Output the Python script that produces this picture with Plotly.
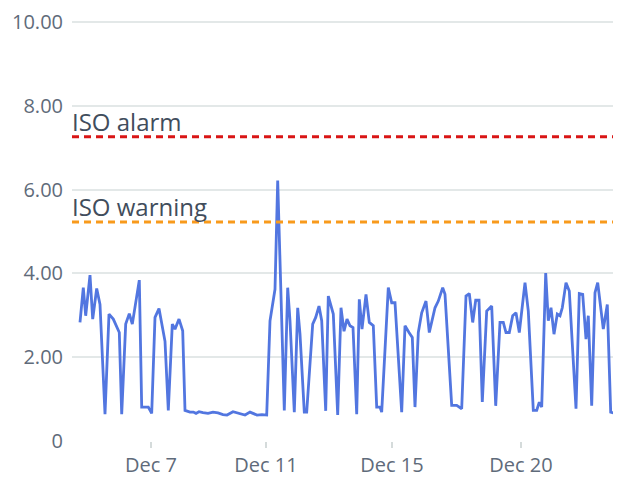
import plotly.graph_objects as go

# x position in hours from the start of the plotted window, y = measured value
hours = [8, 11.3, 13.7, 18, 20.7, 24.7, 28, 33, 37, 41.3, 47.3, 49.7, 53.7, 57.3, 60.3,
         67.3, 69.7, 76.3, 79.7, 83, 87, 93, 96.3, 100.3, 103, 107, 110.7, 113, 118,
         121.3, 124, 127, 131, 136, 141, 146, 151, 155, 161, 168, 173, 178, 182, 185,
         190, 194.7, 198, 203, 205.7, 212.3, 215.7, 218, 222.3, 225.7, 228, 232.3, 234.7,
         240.7, 243.7, 247, 249.7, 253.7, 256.3, 261.3, 265.7, 269, 272, 275, 278, 281,
         284.7, 287.3, 290, 294, 297.3, 301.3, 304.7, 308, 309.7, 316.3, 319.7, 323,
         329.7, 333, 337, 340.3, 343, 346.3, 349.7, 354, 357.3, 363, 366.3, 370.7, 373,
         379.7, 384.7, 389.7, 394, 397.3, 400.7, 403.7, 407, 410.3, 414.7, 419.7, 423.7,
         428, 431.3, 434, 437.3, 440.7, 444, 447.3, 453, 456.3, 461.3, 464.7, 467.3,
         469.7, 473.7, 476.3, 479, 482, 485.3, 488, 490.3, 494, 497.3, 504, 507.3, 510.7,
         514, 516.3, 519.7, 523, 525.7, 531.3, 535.3, 538.7, 543, 548]
values = [2.83, 3.66, 2.99, 3.96, 2.91, 3.64, 3.26, 0.64, 3.03, 2.91, 2.59, 0.64, 2.79,
          3.04, 2.79, 3.84, 0.81, 0.81, 0.66, 2.95, 3.16, 2.38, 0.73, 2.79, 2.67, 2.91,
          2.63, 0.73, 0.69, 0.69, 0.66, 0.70, 0.68, 0.66, 0.69, 0.67, 0.63, 0.62, 0.70,
          0.66, 0.62, 0.69, 0.64, 0.62, 0.63, 0.62, 2.87, 3.62, 6.22, 0.73, 3.66, 2.87,
          0.69, 3.18, 2.55, 0.69, 0.69, 2.79, 2.95, 3.22, 2.87, 0.72, 3.46, 3.03, 0.62,
          3.18, 2.62, 2.91, 2.75, 2.71, 0.64, 3.38, 2.67, 3.50, 2.83, 2.75, 0.81, 0.81,
          0.69, 3.66, 3.30, 3.30, 0.69, 2.75, 2.59, 2.47, 0.81, 2.59, 3.06, 3.34, 2.59,
          3.18, 3.34, 3.66, 3.50, 0.85, 0.85, 0.77, 3.46, 3.52, 2.83, 3.36, 3.36, 0.93,
          3.10, 3.22, 0.84, 2.83, 2.83, 2.59, 2.59, 2.99, 3.06, 2.59, 3.78, 3.10, 0.73,
          0.73, 0.93, 0.81, 4.01, 2.87, 3.18, 2.55, 3.03, 2.99, 3.18, 3.78, 3.58, 0.77,
          3.52, 3.50, 2.43, 2.99, 0.84, 3.54, 3.78, 2.67, 3.26, 0.69, 0.66, 0.66]

tick_hours = [79, 194, 320, 449]
tick_labels = ["Dec 7", "Dec 11", "Dec 15", "Dec 20"]
y_ticks = [0, 2, 4, 6, 8, 10]
y_labels = ["0", "2.00", "4.00", "6.00", "8.00", "10.00"]

alarm_level = 7.26
warning_level = 5.23
thresholds = [("ISO alarm", alarm_level, "#d91515"), ("ISO warning", warning_level, "#f89a1c")]

FONT = "Open Sans"
TICK_COLOR = "#5f6b7a"
GRID = "#e3e8e8"

fig = go.Figure()
fig.add_trace(go.Scatter(x=hours, y=values, mode="lines",
                         line=dict(color="#5276e0", width=2.8), hoverinfo="skip",
                         showlegend=False))

for name, level, color in thresholds:
    fig.add_shape(type="line", xref="paper", x0=0, x1=1, yref="y", y0=level, y1=level,
                  line=dict(color=color, width=3, dash="7px,5px"))
    fig.add_annotation(text=name, xref="paper", x=0, xanchor="left", xshift=-2,
                       yref="y", y=level, yanchor="middle", yshift=15, showarrow=False,
                       font=dict(family=FONT, size=24, color="#414d5c"))

# the page places the figure 8px from the top-left corner, so the figure is 8px smaller
fig.update_layout(
    width=613, height=470,
    margin=dict(l=64, r=0, t=0, b=37),
    paper_bgcolor="white", plot_bgcolor="white",
    font=dict(family=FONT, size=20, color=TICK_COLOR),
    xaxis=dict(range=[0, 549], tickvals=tick_hours, ticktext=tick_labels,
               showgrid=False, zeroline=False, showline=False,
               ticks="outside", ticklen=6, tickwidth=1.5, tickcolor="#d5dbdb",
               tickfont=dict(family=FONT, size=20, color=TICK_COLOR)),
    yaxis=dict(range=[0, 10.24], tickvals=y_ticks, ticktext=y_labels,
               showgrid=True, gridcolor=GRID, gridwidth=2, zeroline=False,
               showline=False, ticks="", ticklabelstandoff=8, ticklabeloverflow="allow",
               tickfont=dict(family=FONT, size=20, color=TICK_COLOR)),
)

fig.write_html("out.html")
